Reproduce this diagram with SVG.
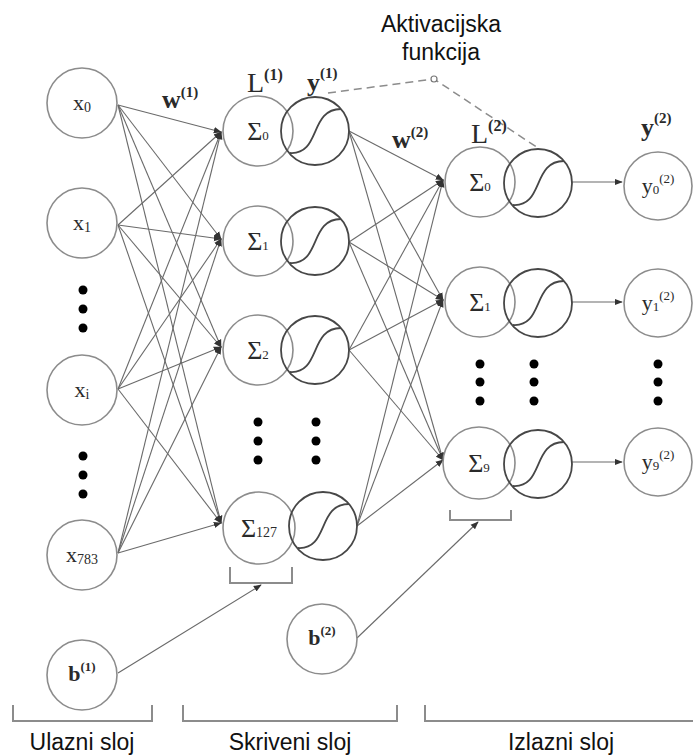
<svg xmlns="http://www.w3.org/2000/svg" xmlns:xlink="http://www.w3.org/1999/xlink" width="693" height="756" viewBox="0 0 693 756">
<style>
.n{fill:none;stroke:#8c8c8c;stroke-width:1.6}
.s{fill:none;stroke:#474747;stroke-width:1.8}
.c{stroke:#6a6a6a;stroke-width:1.1;fill:none}
.t{font-family:"Liberation Serif","Times New Roman",serif;fill:#2a2a2a}
.lab{font-family:"Liberation Sans",Arial,sans-serif;fill:#111;font-size:23px}
.dot{fill:#000}
.br{fill:none;stroke:#8c8c8c;stroke-width:2}
</style>
<defs>
<marker id="ah" viewBox="0 0 10 10" refX="9" refY="5" markerWidth="8" markerHeight="8" markerUnits="userSpaceOnUse" orient="auto">
<path d="M0,1 L10,5 L0,9 z" fill="#333"/>
</marker>
<g id="sig">
<circle r="34" class="s"/>
<path d="M-25,22 C6,24 -6,-22 26,-22" class="s"/>
</g>
</defs>
<rect width="693" height="756" fill="#fff"/>

<g id="connectors">
<g marker-end="url(#ah)">
<line class="c" x1="118" y1="105" x2="221" y2="132"/>
<line class="c" x1="118" y1="105" x2="221" y2="239"/>
<line class="c" x1="118" y1="105" x2="221" y2="347"/>
<line class="c" x1="118" y1="105" x2="221" y2="523"/>
<line class="c" x1="118" y1="225" x2="221" y2="132"/>
<line class="c" x1="118" y1="225" x2="221" y2="239"/>
<line class="c" x1="118" y1="225" x2="221" y2="347"/>
<line class="c" x1="118" y1="225" x2="221" y2="523"/>
<line class="c" x1="118" y1="389" x2="221" y2="132"/>
<line class="c" x1="118" y1="389" x2="221" y2="239"/>
<line class="c" x1="118" y1="389" x2="221" y2="347"/>
<line class="c" x1="118" y1="389" x2="221" y2="523"/>
<line class="c" x1="118" y1="553" x2="221" y2="132"/>
<line class="c" x1="118" y1="553" x2="221" y2="239"/>
<line class="c" x1="118" y1="553" x2="221" y2="347"/>
<line class="c" x1="118" y1="553" x2="221" y2="523"/>
<line class="c" x1="349" y1="131" x2="443" y2="180"/>
<line class="c" x1="349" y1="131" x2="443" y2="300"/>
<line class="c" x1="349" y1="131" x2="443" y2="460"/>
<line class="c" x1="349" y1="242" x2="443" y2="180"/>
<line class="c" x1="349" y1="242" x2="443" y2="300"/>
<line class="c" x1="349" y1="242" x2="443" y2="460"/>
<line class="c" x1="349" y1="350" x2="443" y2="180"/>
<line class="c" x1="349" y1="350" x2="443" y2="300"/>
<line class="c" x1="349" y1="350" x2="443" y2="460"/>
<line class="c" x1="357" y1="526" x2="443" y2="180"/>
<line class="c" x1="357" y1="526" x2="443" y2="300"/>
<line class="c" x1="357" y1="526" x2="443" y2="460"/>
<line class="c" x1="571" y1="182" x2="622" y2="182"/>
<line class="c" x1="571" y1="302" x2="622" y2="302"/>
<line class="c" x1="571" y1="462" x2="622" y2="462"/>
<line class="c" x1="118" y1="673" x2="261" y2="585"/>
<line class="c" x1="357" y1="638" x2="478" y2="522"/>
</g>
<polyline points="328,93 434,79 538,148" fill="none" stroke="#8c8c8c" stroke-width="1.5" stroke-dasharray="8 5"/>
<circle cx="434" cy="79" r="3" fill="#fff" stroke="#777" stroke-width="1.2"/>
</g>

<g id="x0"><circle class="n" cx="82" cy="103" r="35"/><text class="t" x="82" y="110" font-size="22" text-anchor="middle">x<tspan font-size="14" dy="2">0</tspan></text></g>
<g id="x1"><circle class="n" cx="82" cy="223" r="35"/><text class="t" x="82" y="230" font-size="22" text-anchor="middle">x<tspan font-size="14" dy="2">1</tspan></text></g>
<g id="dots-in-1"><circle class="dot" cx="83" cy="290" r="4.5"/><circle class="dot" cx="83" cy="309" r="4.5"/><circle class="dot" cx="83" cy="328" r="4.5"/></g>
<g id="xi"><circle class="n" cx="82" cy="390" r="35"/><text class="t" x="82" y="397" font-size="22" text-anchor="middle">x<tspan font-size="14" dy="2">i</tspan></text></g>
<g id="dots-in-2"><circle class="dot" cx="83" cy="456" r="4.5"/><circle class="dot" cx="83" cy="475" r="4.5"/><circle class="dot" cx="83" cy="494" r="4.5"/></g>
<g id="x783"><circle class="n" cx="82" cy="555" r="35"/><text class="t" x="82" y="562" font-size="22" text-anchor="middle">x<tspan font-size="14" dy="2">783</tspan></text></g>
<g id="b1"><circle class="n" cx="82" cy="675" r="35"/><text class="t" x="82" y="681" font-size="22" font-weight="bold" text-anchor="middle">b<tspan font-size="13" dy="-10">(1)</tspan></text></g>

<g id="w1"><text class="t" x="162" y="108" font-size="26" font-weight="bold">w<tspan font-size="15" dy="-11">(1)</tspan></text></g>
<g id="L1"><text class="t" x="247" y="92" font-size="28">L<tspan font-size="16" dy="-12" font-weight="bold">(1)</tspan></text></g>
<g id="y1lab"><text class="t" x="307" y="91" font-size="26" font-weight="bold">y<tspan font-size="15" dy="-13">(1)</tspan></text></g>
<g id="w2"><text class="t" x="392" y="148" font-size="26" font-weight="bold">w<tspan font-size="15" dy="-11">(2)</tspan></text></g>
<g id="L2"><text class="t" x="471" y="143" font-size="28">L<tspan font-size="16" dy="-12" font-weight="bold">(2)</tspan></text></g>
<g id="y2lab"><text class="t" x="641" y="136" font-size="26" font-weight="bold">y<tspan font-size="15" dy="-13">(2)</tspan></text></g>

<g id="h0"><circle class="n" cx="258" cy="131" r="35"/><use xlink:href="#sig" x="315" y="131"/><text class="t" x="258" y="140" font-size="26" text-anchor="middle">Σ<tspan font-size="13">0</tspan></text></g>
<g id="h1"><circle class="n" cx="258" cy="241" r="35"/><use xlink:href="#sig" x="315" y="241"/><text class="t" x="258" y="250" font-size="26" text-anchor="middle">Σ<tspan font-size="13">1</tspan></text></g>
<g id="h2"><circle class="n" cx="258" cy="350" r="35"/><use xlink:href="#sig" x="315" y="350"/><text class="t" x="258" y="359" font-size="26" text-anchor="middle">Σ<tspan font-size="13">2</tspan></text></g>
<g id="dots-h"><circle class="dot" cx="258" cy="422" r="4.5"/><circle class="dot" cx="258" cy="441" r="4.5"/><circle class="dot" cx="258" cy="460" r="4.5"/><circle class="dot" cx="316" cy="422" r="4.5"/><circle class="dot" cx="316" cy="441" r="4.5"/><circle class="dot" cx="316" cy="460" r="4.5"/></g>
<g id="h127"><circle class="n" cx="259" cy="528" r="36"/><use xlink:href="#sig" x="323" y="526"/><text class="t" x="259" y="537" font-size="26" text-anchor="middle">Σ<tspan font-size="14">127</tspan></text></g>
<path class="br" d="M230,567 V583 H292 V567"/>
<g id="b2"><circle class="n" cx="322" cy="639" r="35"/><text class="t" x="322" y="645" font-size="22" font-weight="bold" text-anchor="middle">b<tspan font-size="13" dy="-10">(2)</tspan></text></g>

<g id="o0"><circle class="n" cx="480" cy="182" r="35"/><use xlink:href="#sig" x="538" y="183"/><text class="t" x="480" y="191" font-size="26" text-anchor="middle">Σ<tspan font-size="13">0</tspan></text></g>
<g id="o1"><circle class="n" cx="480" cy="302" r="35"/><use xlink:href="#sig" x="538" y="303"/><text class="t" x="480" y="311" font-size="26" text-anchor="middle">Σ<tspan font-size="13">1</tspan></text></g>
<g id="dots-o"><circle class="dot" cx="480" cy="364" r="4.5"/><circle class="dot" cx="480" cy="382" r="4.5"/><circle class="dot" cx="480" cy="401" r="4.5"/><circle class="dot" cx="534" cy="364" r="4.5"/><circle class="dot" cx="534" cy="382" r="4.5"/><circle class="dot" cx="534" cy="401" r="4.5"/><circle class="dot" cx="658" cy="364" r="4.5"/><circle class="dot" cx="658" cy="382" r="4.5"/><circle class="dot" cx="658" cy="401" r="4.5"/></g>
<g id="o9"><circle class="n" cx="479" cy="463" r="36"/><use xlink:href="#sig" x="538" y="464"/><text class="t" x="479" y="472" font-size="26" text-anchor="middle">Σ<tspan font-size="13">9</tspan></text></g>
<path class="br" d="M450,510 V520 H511 V510"/>

<g id="y0"><circle class="n" cx="658" cy="186" r="34"/><text class="t" x="658" y="193" font-size="22" text-anchor="middle">y<tspan font-size="13" dy="1">0</tspan><tspan font-size="13" dy="-11">(2)</tspan></text></g>
<g id="y1"><circle class="n" cx="658" cy="303" r="34"/><text class="t" x="658" y="310" font-size="22" text-anchor="middle">y<tspan font-size="13" dy="1">1</tspan><tspan font-size="13" dy="-11">(2)</tspan></text></g>
<g id="y9"><circle class="n" cx="658" cy="462" r="34"/><text class="t" x="658" y="469" font-size="22" text-anchor="middle">y<tspan font-size="13" dy="1">9</tspan><tspan font-size="13" dy="-11">(2)</tspan></text></g>

<g id="callout"><text class="lab" x="441" y="32" text-anchor="middle">Aktivacijska</text><text class="lab" x="441" y="60" text-anchor="middle">funkcija</text></g>

<g id="layers">
<path class="br" d="M13,705 V721 H152 V705"/>
<path class="br" d="M183,705 V721 H397 V705"/>
<path class="br" d="M425,705 V721 H695"/>
<text class="lab" x="82" y="750" text-anchor="middle">Ulazni sloj</text>
<text class="lab" x="290" y="750" text-anchor="middle">Skriveni sloj</text>
<text class="lab" x="561" y="750" text-anchor="middle">Izlazni sloj</text>
</g>
</svg>
